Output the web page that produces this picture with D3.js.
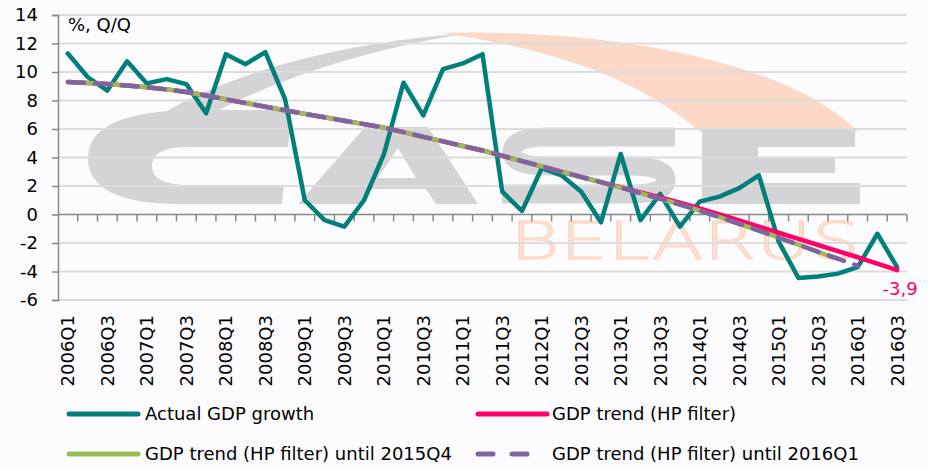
<!DOCTYPE html>
<html>
<head>
<meta charset="utf-8">
<script src="https://cdn.jsdelivr.net/npm/d3@7.9.0/dist/d3.min.js"></script>
<style>
  html, body { margin: 0; padding: 0; background: #fcfcfe; }
  svg { display: block; font-family: "DejaVu Sans", Verdana, sans-serif; }
</style>
</head>
<body>
<svg id="chart" width="928" height="468"></svg>
<script>
const quarters = [
  '2006Q1','2006Q2','2006Q3','2006Q4','2007Q1','2007Q2','2007Q3','2007Q4',
  '2008Q1','2008Q2','2008Q3','2008Q4','2009Q1','2009Q2','2009Q3','2009Q4',
  '2010Q1','2010Q2','2010Q3','2010Q4','2011Q1','2011Q2','2011Q3','2011Q4',
  '2012Q1','2012Q2','2012Q3','2012Q4','2013Q1','2013Q2','2013Q3','2013Q4',
  '2014Q1','2014Q2','2014Q3','2014Q4','2015Q1','2015Q2','2015Q3','2015Q4',
  '2016Q1','2016Q2','2016Q3'
];

const actualGrowth = [
  11.3, 9.65, 8.7, 10.75, 9.2, 9.5, 9.15, 7.1, 11.25, 10.55, 11.4, 8.1,
  1.0, -0.4, -0.85, 1.0, 4.2, 9.25, 6.95, 10.2, 10.6, 11.25, 1.6, 0.25,
  3.25, 2.75, 1.6, -0.55, 4.25, -0.4, 1.45, -0.85, 0.9, 1.25, 1.85, 2.75,
  -1.9, -4.45, -4.35, -4.15, -3.7, -1.35, -3.7
];

const trendHP = [
  9.30, 9.23, 9.15, 9.05, 8.93, 8.78, 8.60, 8.35, 8.08, 7.82, 7.56, 7.31,
  7.06, 6.82, 6.58, 6.34, 6.10, 5.78, 5.45, 5.13, 4.81, 4.49, 4.12, 3.75,
  3.38, 3.00, 2.63, 2.27, 1.91, 1.55, 1.19, 0.83, 0.42, 0.00, -0.42, -0.85,
  -1.28, -1.71, -2.14, -2.57, -3.00, -3.45, -3.90
];

const trendTo2015Q4 = [
  9.30, 9.23, 9.15, 9.05, 8.93, 8.78, 8.60, 8.35, 8.08, 7.82, 7.56, 7.31,
  7.06, 6.82, 6.58, 6.34, 6.10, 5.78, 5.45, 5.13, 4.81, 4.49, 4.12, 3.75,
  3.38, 3.00, 2.63, 2.27, 1.89, 1.50, 1.10, 0.70, 0.27, -0.18, -0.65, -1.13,
  -1.62, -2.12, -2.62, -3.12
];

const trendTo2016Q1 = [
  9.30, 9.23, 9.15, 9.05, 8.93, 8.78, 8.60, 8.35, 8.08, 7.82, 7.56, 7.31,
  7.06, 6.82, 6.58, 6.34, 6.10, 5.78, 5.45, 5.13, 4.81, 4.49, 4.12, 3.75,
  3.38, 3.00, 2.63, 2.27, 1.89, 1.50, 1.10, 0.70, 0.27, -0.18, -0.65, -1.13,
  -1.62, -2.12, -2.62, -3.10, -3.60
];

const yTicks = [-6, -4, -2, 0, 2, 4, 6, 8, 10, 12, 14];
const tickLabels = quarters.filter((q, i) => i % 2 === 0);
const lastLabel = '-3,9';

const series = [
  { name: 'Actual GDP growth', values: actualGrowth, color: '#007f7b', dash: null },
  { name: 'GDP trend (HP filter)', values: trendHP, color: '#ff0066', dash: null },
  { name: 'GDP trend (HP filter) until 2015Q4', values: trendTo2015Q4, color: '#9bbb59', dash: null },
  { name: 'GDP trend (HP filter) until 2016Q1', values: trendTo2016Q1, color: '#8064a2', dash: '16,11' }
];

const svg = d3.select('#chart');
const plotL = 58, plotR = 907, plotT = 15, plotB = 300;

const x = d3.scaleBand().domain(quarters).range([plotL, plotR]).padding(0);
const y = d3.scaleLinear().domain([-6, 14]).range([plotB, plotT]);
const cx = q => x(q) + x.bandwidth() / 2;

// watermark: rough sketch of the CASE Belarus logo behind the plot
const wm = svg.append('g').attr('class', 'watermark').attr('fill', '#d4d4d6');
wm.append('path')
  .attr('d', 'M95,172 C150,95 300,45 470,33 C390,45 250,78 155,150 Z');
wm.append('path')
  .attr('fill', '#fcd9c6')
  .attr('d', 'M440,33 C600,28 790,60 858,132 L700,132 C640,80 560,50 440,33 Z');
// C
wm.append('path')
  .attr('d', 'M292,110 L190,110 Q88,112 88,158 Q88,205 185,204 L282,204 L284,185 L188,185 ' +
             'Q152,185 152,166 Q152,147 188,147 L288,147 Z');
// A
wm.append('path')
  .attr('fill-rule', 'evenodd')
  .attr('d', 'M298,204 L365,127 L428,127 L478,204 L436,204 L426,189 L372,189 L360,204 Z ' +
             'M378,178 L398,148 L416,178 Z');
// S
wm.append('path')
  .attr('fill', 'none').attr('stroke', '#d4d4d6').attr('stroke-width', 19)
  .attr('d', 'M675,137 L548,137 Q512,137 512,152 Q512,166 548,166 L630,166 ' +
             'Q666,166 666,180 Q666,194 630,194 L502,194');
// E
wm.append('path')
  .attr('d', 'M702,130 L855,130 L855,147 L758,147 L758,157 L835,157 L835,173 L758,173 ' +
             'L758,183 L860,183 L860,204 L702,204 Z');
wm.append('text')
  .attr('x', 510).attr('y', 259)
  .attr('textLength', 350).attr('lengthAdjust', 'spacingAndGlyphs')
  .attr('font-family', '"DejaVu Sans ExtraLight", "DejaVu Sans"')
  .attr('font-weight', 200).attr('font-size', 52)
  .attr('fill', '#fde3d3').attr('stroke', '#fbd3bd').attr('stroke-width', 1)
  .text('BELARUS');

// gridlines
svg.append('g')
  .selectAll('line')
  .data(yTicks.filter(d => d !== 0))
  .join('line')
  .attr('x1', plotL).attr('x2', plotR)
  .attr('y1', d => y(d)).attr('y2', d => y(d))
  .attr('stroke', '#dcdcdc').attr('stroke-width', 2);

// y axis
const yAxis = svg.append('g')
  .attr('transform', `translate(${plotL},0)`)
  .call(d3.axisLeft(y).tickValues(yTicks).tickSize(6).tickPadding(14).tickFormat(d => String(d)));
yAxis.select('.domain').attr('stroke', '#888').attr('stroke-width', 1.5);
yAxis.selectAll('.tick line').attr('stroke', '#888').attr('stroke-width', 1.5);
yAxis.selectAll('.tick text')
  .attr('font-size', 18).attr('fill', '#000')
  .attr('font-family', '"DejaVu Sans", Verdana, sans-serif');

// x axis at zero with ticks between categories
const xAxis = svg.append('g');
xAxis.append('line')
  .attr('x1', plotL).attr('x2', plotR)
  .attr('y1', y(0)).attr('y2', y(0))
  .attr('stroke', '#888').attr('stroke-width', 1.5);
xAxis.selectAll('line.tk')
  .data(quarters.slice(1).map(q => x(q)).concat([plotR]))
  .join('line')
  .attr('class', 'tk')
  .attr('x1', d => d).attr('x2', d => d)
  .attr('y1', y(0)).attr('y2', y(0) + 7)
  .attr('stroke', '#888').attr('stroke-width', 1.5);

svg.append('g')
  .selectAll('text')
  .data(tickLabels)
  .join('text')
  .attr('transform', d => `translate(${cx(d)},${plotB + 15}) rotate(-90)`)
  .attr('dy', '0.36em')
  .attr('text-anchor', 'end')
  .attr('font-size', 18)
  .attr('fill', '#000')
  .text(d => d);

svg.append('text')
  .attr('x', 68).attr('y', 31)
  .attr('font-size', 18).attr('fill', '#000')
  .text('%, Q/Q');

// lines
const line = vals => d3.line()
  .x((d, i) => cx(quarters[i]))
  .y(d => y(d))(vals);

series.forEach(s => {
  svg.append('path')
    .attr('d', line(s.values))
    .attr('fill', 'none')
    .attr('stroke', s.color)
    .attr('stroke-width', 4.5)
    .attr('stroke-linejoin', 'round')
    .attr('stroke-linecap', 'round')
    .attr('stroke-dasharray', s.dash);
});

svg.append('text')
  .attr('x', cx(quarters[quarters.length - 1]) + 3)
  .attr('y', 295)
  .attr('text-anchor', 'middle')
  .attr('font-size', 18)
  .attr('fill', '#ff0066')
  .text(lastLabel);

// legend
const legendPos = [[67, 414], [476, 414], [67, 454], [476, 454]];
series.forEach((s, i) => {
  const [lx, ly] = legendPos[i];
  const g = svg.append('g').attr('transform', `translate(${lx},${ly})`);
  g.append('line')
    .attr('x1', 2).attr('x2', s.dash ? 66 : 71)
    .attr('stroke', s.color).attr('stroke-width', 5)
    .attr('stroke-linecap', 'round')
    .attr('stroke-dasharray', s.dash ? '15,19' : null);
  g.append('text')
    .attr('x', i % 2 === 0 ? 78 : 76)
    .attr('dy', '0.35em')
    .attr('font-size', 18)
    .attr('fill', '#000')
    .text(s.name);
});
</script>
</body>
</html>
